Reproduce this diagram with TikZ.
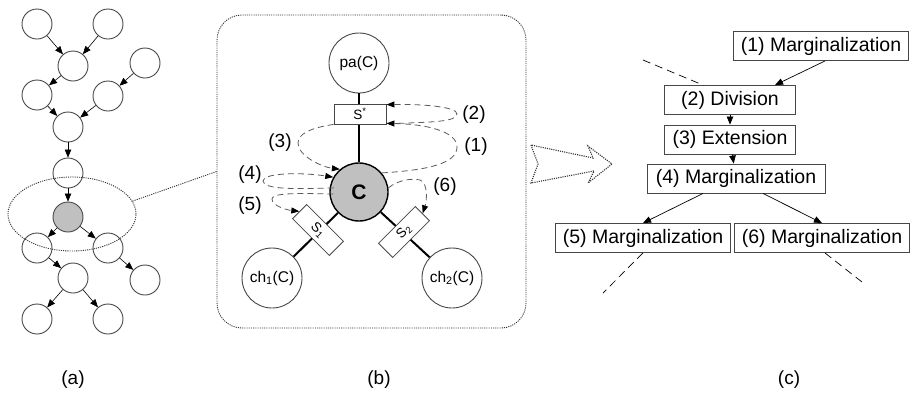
\documentclass[tikz,border=0pt]{standalone}
\usepackage{fontspec}
\setmainfont{Liberation Sans}
\usetikzlibrary{arrows.meta,shapes.geometric}
\definecolor{nodegray}{RGB}{192,192,192}
\definecolor{edgegray}{RGB}{70,70,70}
\definecolor{dashgray}{RGB}{90,90,90}

\tikzset{
  bnode/.style={circle, draw=edgegray, line width=0.9pt, minimum size=30pt, inner sep=0pt},
  cnode/.style={circle, draw=edgegray, line width=0.9pt, minimum size=60pt, inner sep=0pt,
    font=\fontsize{15.5}{18}\selectfont},
  sepbox/.style={rectangle, draw=edgegray, fill=white, line width=0.8pt, minimum width=52pt,
    minimum height=20pt, inner sep=0pt, font=\fontsize{13.5}{15}\selectfont},
  opbox/.style={rectangle, draw=edgegray, line width=0.9pt, minimum width=131pt,
    minimum height=29pt, inner xsep=7.5pt, inner ysep=0pt, font=\fontsize{19.5}{22}\selectfont},
  msgarrow/.style={dashgray, dash pattern=on 6pt off 4pt, line width=0.8pt,
    -{Triangle[length=8pt,width=6pt,color=black]}},
  zoomline/.style={draw=black!80, line width=0.9pt, dash pattern=on 1.1pt off 1.1pt},
  numlabel/.style={font=\fontsize{19}{22}\selectfont},
}

\begin{document}
\begin{tikzpicture}[x=1pt, y=-1pt, >={Triangle[length=8pt,width=6.5pt]}]
\useasboundingbox (0,0) rectangle (910,392);

% (a) the whole network
\foreach \n/\x/\y in {a1/37/24, a2/108/24, a3/73/66, a4/145/63, a5/37/95, a6/108/96,
    a7/68/127, a8/68/173, a10/37/248, a11/108/248, a12/73/278, a13/145/280,
    a14/37/319, a15/108/319}
  \node[bnode] (\n) at (\x,\y) {};
\node[bnode, fill=nodegray] (a9) at (68,217) {};
\foreach \s/\t in {a1/a3, a2/a3, a3/a5, a4/a6, a5/a7, a6/a7, a7/a8, a8/a9,
    a9/a10, a9/a11, a10/a12, a11/a13, a12/a14, a12/a15}
  \draw[->, line width=0.6pt] (\s) -- (\t);

% zoomed region
\node[ellipse, zoomline, minimum width=128pt, minimum height=74pt,
  inner sep=0pt] (zoomell) at (72,214) {};
\node[zoomline, rounded corners=25pt, minimum width=309pt,
  minimum height=313pt] (frame) at (371.5,171.5) {};
\draw[zoomline] (zoomell.12) -- (frame.west);

% (b) clique C with its separators
\node[cnode] (pa) at (359,63) {pa(C)};
\node[circle, fill=nodegray, draw=black, line width=1.4pt, minimum size=58pt,
  font=\fontsize{21}{24}\selectfont\bfseries] (C) at (359,192) {C};
\node[cnode] (ch1) at (272,278) {ch\textsubscript{1}(C)};
\node[cnode] (ch2) at (452,278) {ch\textsubscript{2}(C)};
\draw[line width=2pt] (pa) -- (C);
\draw[line width=2pt] (C) -- (ch1);
\draw[line width=2pt] (C) -- (ch2);

\node[sepbox] (sstar) at (360,114) {S\textsuperscript{*}};
\node[sepbox, rotate=-45] (s1) at (318,230) {S\textsubscript{1}};
\node[sepbox, rotate=45] (s2) at (404,232) {S\textsubscript{2}};

% message passing steps
\draw[msgarrow] (C.40) .. controls (430,170) and (457,163) .. (457,147)
  .. controls (457,131) and (425,124) .. ([yshift=1pt]sstar.south east);
\draw[msgarrow] ([xshift=12pt,yshift=1pt]sstar.south east) .. controls (430,122) and (457,122) .. (457,114)
  .. controls (457,107) and (425,104) .. ([yshift=-1pt]sstar.north east);
\draw[msgarrow] (sstar.south west) .. controls (310,128) and (298,134) .. (298,143)
  .. controls (298,156) and (322,167) .. (C.130);
\draw[msgarrow] ([xshift=4pt]C.172) .. controls (300,189) and (263,190) .. (263,181)
  .. controls (263,173) and (300,172) .. (C.150);
\draw[msgarrow] ([xshift=4pt]C.184) .. controls (295,193) and (272,193) .. (272,199)
  .. controls (272,206) and (287,210) .. (s1.west);
\draw[msgarrow] (C.8) .. controls (398,180) and (412,178) .. (420,180)
  .. controls (428,183) and (427,200) .. (s2.east);

\node[numlabel] (l1) at (476,147) {(1)};
\node[numlabel] (l2) at (474,115) {(2)};
\node[numlabel] (l3) at (280,143) {(3)};
\node[numlabel] (l4) at (250,175) {(4)};
\node[numlabel] (l5) at (250,206) {(5)};
\node[numlabel] (l6) at (445,187) {(6)};

% hollow arrow
\draw[zoomline, line width=1.1pt] (531,145) -- (538,164) -- (531,183) -- (594,171)
  -- (588,183) -- (612,164) -- (588,146) -- (593,158) -- cycle;

% (c) order of operations
\node[opbox] (m1) at (821,46) {(1) Marginalization};
\node[opbox] (dv) at (730,100) {(2) Division};
\node[opbox] (ex) at (730,139.5) {(3) Extension};
\node[opbox, minimum width=178pt] (m4) at (736,178.5) {(4) Marginalization};
\node[opbox] (m5) at (643,238) {(5) Marginalization};
\node[opbox] (m6) at (822,238) {(6) Marginalization};

\draw[->, line width=0.7pt] ([xshift=4pt]m1.south) -- ([xshift=45pt]dv.north);
\draw[->, line width=0.7pt] (dv) -- (ex);
\draw[->, line width=0.7pt] (ex) -- (m4);
\draw[->, line width=0.7pt] ([xshift=-33pt]m4.south) -- (m5.north);
\draw[->, line width=0.7pt] ([xshift=27pt]m4.south) -- (m6.north);

\coordinate (cut1) at (643,60);
\coordinate (cut2) at (603,293);
\coordinate (cut3) at (862,282);
\draw[dash pattern=on 8pt off 5pt, line width=0.7pt] (cut1) -- ([xshift=-27pt]dv.north);
\draw[dash pattern=on 8pt off 5pt, line width=0.7pt] (m5.south) -- (cut2);
\draw[dash pattern=on 8pt off 5pt, line width=0.7pt] ([xshift=3pt]m6.south) -- (cut3);

% captions
\node[numlabel] (capa) at (73,380) {(a)};
\node[numlabel] (capb) at (379,380) {(b)};
\node[numlabel] (capc) at (789,380) {(c)};
\end{tikzpicture}
\end{document}
